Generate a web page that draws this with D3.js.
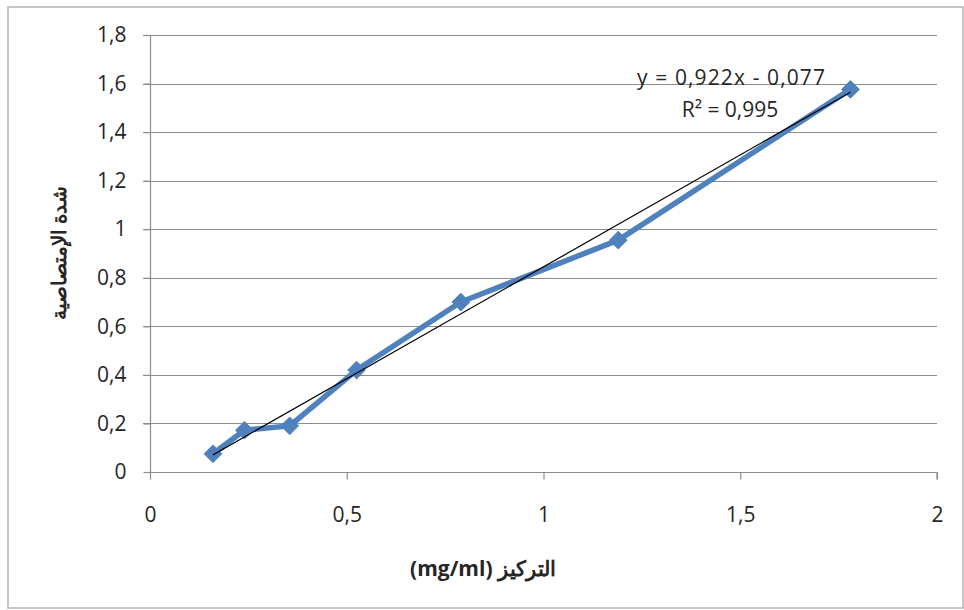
<!DOCTYPE html>
<html>
<head>
<meta charset="utf-8">
<script src="https://cdn.jsdelivr.net/npm/d3@7"></script>
<style>
  html, body { margin: 0; padding: 0; background: #fff; }
  svg { display: block; }
  text { font-family: "Open Sans", "Liberation Sans", sans-serif; fill: #262626; }
</style>
</head>
<body>
<svg id="chart" width="964" height="610"></svg>
<script>
// ---- data ----
const concentration = [0.16, 0.24, 0.355, 0.525, 0.79, 1.19, 1.78];
const absorbance    = [0.075, 0.172, 0.19, 0.42, 0.70, 0.955, 1.576];
const xTicks = [0, 0.5, 1, 1.5, 2];
const yTicks = [0, 0.2, 0.4, 0.6, 0.8, 1, 1.2, 1.4, 1.6, 1.8];
const slope = 0.922, intercept = -0.077;
const equationText = "y = 0,922x - 0,077";
const r2Text = "R² = 0,995";
const xTitle = "التركيز (mg/ml)";
const yTitle = "شدة الإمتصاصية";

const svg = d3.select("#chart");
const fmt = d => String(+d.toFixed(1)).replace(".", ",");

// outer chart border
svg.append("rect").attr("x", 8).attr("y", 7).attr("width", 955).attr("height", 601)
  .attr("fill", "none").attr("stroke", "#b4b4b4").attr("stroke-width", 1.5);

const x = d3.scaleLinear().domain([0, 2]).range([150, 937]);
const y = d3.scaleLinear().domain([0, 1.8]).range([472, 35]);

// gridlines
svg.append("g").selectAll("line").data(yTicks.filter(d => d > 0)).join("line")
  .attr("x1", 143).attr("x2", x(2))
  .attr("y1", d => Math.round(y(d)) + 0.5).attr("y2", d => Math.round(y(d)) + 0.5)
  .attr("stroke", "#8c8c8c").attr("stroke-width", 1.2);

// y axis
const yAxis = svg.append("g").attr("transform", "translate(150.5,0)")
  .call(d3.axisLeft(y).tickValues(yTicks).tickFormat(fmt).tickSize(7).tickPadding(17));
// x axis
const xAxis = svg.append("g").attr("transform", `translate(0,${Math.round(y(0)) + 0.5})`)
  .call(d3.axisBottom(x).tickValues(xTicks).tickFormat(d => String(d).replace(".", ",")).tickSize(7).tickPadding(28));

[yAxis, xAxis].forEach(a => {
  a.select(".domain").attr("stroke", "#8c8c8c").attr("stroke-width", 1.2);
  a.selectAll(".tick line").attr("stroke", "#8c8c8c").attr("stroke-width", 1.2);
  a.selectAll(".tick text").attr("font-size", 21).attr("font-family", "\"Open Sans\", sans-serif").attr("fill", "#262626");
});
xAxis.select(".domain").attr("d", `M${x(0)},0H${x(2)}V7`);
yAxis.select(".domain").attr("d", `M0,${y(0)}V${y(1.8)}`);

// series line
const pts = concentration.map((c, i) => [c, absorbance[i]]);
svg.append("path").datum(pts)
  .attr("d", d3.line().x(d => x(d[0])).y(d => y(d[1])))
  .attr("fill", "none").attr("stroke", "#4f81bd").attr("stroke-width", 5.5).attr("stroke-linejoin", "round");

// diamond markers
svg.append("g").selectAll("path").data(pts).join("path")
  .attr("transform", d => `translate(${x(d[0])},${y(d[1])})`)
  .attr("d", d3.symbol().type(d3.symbolDiamond2).size(200))
  .attr("fill", "#4f81bd").attr("stroke", "#4f81bd").attr("stroke-width", 1);

// trendline
const xMin = d3.min(concentration), xMax = d3.max(concentration);
svg.append("line")
  .attr("x1", x(xMin)).attr("y1", y(slope * xMin + intercept))
  .attr("x2", x(xMax)).attr("y2", y(slope * xMax + intercept))
  .attr("stroke", "#000").attr("stroke-width", 1.2);

// equation
svg.append("text").attr("x", 731).attr("y", 85).attr("text-anchor", "middle")
  .attr("font-size", 21).attr("textLength", 188).text(equationText);
svg.append("text").attr("x", 730).attr("y", 117).attr("text-anchor", "middle")
  .attr("font-size", 21).text(r2Text);

// axis titles
svg.append("text").attr("x", 483).attr("y", 576).attr("text-anchor", "middle")
  .attr("direction", "rtl").attr("font-weight", "bold").attr("font-size", 21)
  .attr("font-family", "\"Noto Sans\", \"DejaVu Sans\", sans-serif")
  .text(xTitle);
svg.append("text").attr("transform", "translate(66,253) rotate(-90)")
  .attr("text-anchor", "middle").attr("direction", "rtl").attr("font-weight", "bold").attr("font-size", 20)
  .attr("font-family", "\"Noto Sans\", \"DejaVu Sans\", sans-serif")
  .text(yTitle);
</script>
</body>
</html>
